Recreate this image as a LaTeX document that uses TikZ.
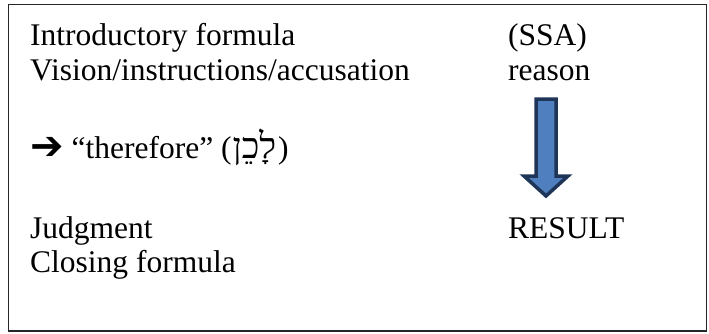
\documentclass[tikz,border=0pt]{standalone}
\usepackage{fontspec}
\setmainfont{Liberation Serif}
\newfontfamily\hebfont[Script=Hebrew]{Liberation Serif}
\newfontfamily\symfont{DejaVu Sans}
\TeXXeTstate=1
\definecolor{arrowfill}{HTML}{4F7FBE}
\definecolor{arrowline}{HTML}{1E3557}
\tikzset{
  txt/.style={inner sep=0pt, anchor=base west, font=\fontsize{31.5}{36}\selectfont},
  frame/.style={draw=black!85, line width=1.6pt},
  blockarrow/.style={fill=arrowfill, draw=arrowline, line width=3.5pt, line join=miter}
}
\begin{document}
\begin{tikzpicture}[x=1pt,y=-1pt]
\useasboundingbox (0,0) rectangle (709,333);
\draw[frame] (8.5,4.5) rectangle (706.5,331);
\node[txt] (intro) at (30,45) {Introductory formula};
\node[txt] (vision) at (30,80) {Vision/instructions/accusation};
\node[txt] (there) at (30,158) {{\symfont\fontsize{40}{40}\selectfont\raisebox{-1pt}{➔}} “therefore” (\kern1pt{\hebfont\fontsize{36}{36}\selectfont\beginR לָכֵן\endR}\kern2pt)};
\node[txt] (judg) at (30,238) {Judgment};
\node[txt] (clos) at (30,272) {Closing formula};
\node[txt] (ssa) at (508,45) {(SSA)};
\node[txt] (reason) at (508,80) {reason};
\node[txt] (result) at (508,238) {RESULT};
\draw[blockarrow] (536,99) -- (556,99) -- (556,176) -- (568,176) -- (546,196) -- (524,176) -- (536,176) -- cycle;
\end{tikzpicture}
\end{document}
